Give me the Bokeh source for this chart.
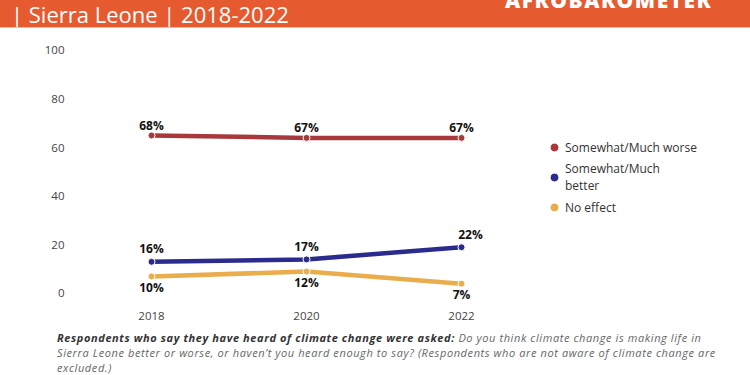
from bokeh.plotting import figure
from bokeh.models import (ColumnDataSource, Range1d, FixedTicker, Legend, LegendItem, Div)
from bokeh.layouts import column
from bokeh.core.properties import value
from bokeh.embed import file_html
from bokeh.resources import INLINE

# ---- data ----
years = [2018, 2020, 2022]
worse = [68, 67, 67]
better = [16, 17, 22]
no_effect = [10, 12, 7]
series_names = ["Somewhat/Much worse", "Somewhat/Much\nbetter", "No effect"]
y_tick_values = [0, 20, 40, 60, 80, 100]

# ---- style ----
FONT = "Open Sans"
colors = ["#a8383b", "#2b2b8e", "#e9ad4c"]
label_dy = [-10, -13, 11]
label_dx_last = [0, 9, 0]
tick_label_lift = 3  # tick labels sit slightly above their gridline position

header = Div(
    text=(
        '<div style="position:relative;width:750px;height:28px;background:#e55a2f;'
        'overflow:hidden;border-bottom:1px solid #f4b89c;box-sizing:border-box;">'
        '<span style="position:absolute;left:11px;top:0px;font-family:\'Open Sans\';'
        'font-size:22px;line-height:28px;color:white;white-space:nowrap;">'
        '| Sierra Leone | 2018-2022</span>'
        '<span style="position:absolute;left:505px;top:-10px;font-family:\'Open Sans\';'
        'font-weight:800;font-size:21px;line-height:21px;color:white;letter-spacing:1.5px;'
        'white-space:nowrap;">AFROBAROMETER</span></div>'
    ),
    width=750, height=28, margin=0,
)

p = figure(width=750, height=300, output_backend="svg", toolbar_location=None,
           x_range=Range1d(2017.019, 2025.471), y_range=Range1d(-0.74, 105.02),
           min_border_left=75, min_border_right=20, min_border_top=17,
           min_border_bottom=26)
p.outline_line_color = None
p.xgrid.visible = False
p.ygrid.visible = False

for ax in (p.xaxis[0], p.yaxis[0]):
    ax.axis_line_color = None
    ax.major_tick_line_color = None
    ax.minor_tick_line_color = None
    ax.major_label_text_font = FONT
    ax.major_label_text_font_size = "11.5px"
    ax.major_label_text_color = "#444444"

p.xaxis[0].ticker = FixedTicker(ticks=years)
p.xaxis[0].major_label_standoff = 3
p.yaxis[0].ticker = FixedTicker(ticks=[v + tick_label_lift for v in y_tick_values])
p.yaxis[0].major_label_overrides = {v + tick_label_lift: str(v) for v in y_tick_values}
p.yaxis[0].major_label_standoff = 5

legend_items = []
for vals, col, name, dy, dx_last in zip([worse, better, no_effect], colors, series_names,
                                        label_dy, label_dx_last):
    src = ColumnDataSource(dict(
        x=years, y=vals, lab=[f"{v}%" for v in vals],
        dx=[0, 0, dx_last],
    ))
    p.line("x", "y", source=src, line_color=col, line_width=4.5)
    r = p.scatter("x", "y", source=src, size=7, fill_color=col, line_color="white",
                  line_width=1)
    p.text("x", "y", text="lab", source=src, x_offset="dx", y_offset=dy,
           text_font=value(FONT), text_font_style="bold", text_font_size="12px",
           text_color="#111111", text_align="center", text_baseline="middle")
    legend_items.append(LegendItem(label=name, renderers=[r]))

legend = Legend(items=legend_items, location=(468, 84), orientation="vertical",
                glyph_width=22, glyph_height=22, label_standoff=0, spacing=2,
                padding=2, margin=0, border_line_color=None,
                background_fill_alpha=0, label_text_font=FONT,
                label_text_font_size="12px", label_text_color="#333333",
                label_height=13)
p.add_layout(legend, "center")

foot_bold = "Respondents who say they have heard of climate change were asked:"
foot_1 = "Do you think climate change is making life in"
foot_2 = ("Sierra Leone better or worse, or haven\u2019t you heard enough to say? "
          "(Respondents who are not aware of climate change are")
foot_3 = "excluded.)"

footer = Div(
    text=(
        '<div style="width:750px;height:47px;padding:2px 0 0 57px;box-sizing:border-box;'
        'font-family:\'Open Sans\';font-size:11px;line-height:15px;font-style:italic;'
        'letter-spacing:0.6px;color:#666666;white-space:nowrap;overflow:hidden;">'
        f'<b style="color:#333333;">{foot_bold}</b> {foot_1}<br>{foot_2}<br>{foot_3}</div>'
    ),
    width=750, height=47, margin=0,
)

layout = column(header, p, footer, spacing=0)
open("out.html", "w").write(file_html(layout, INLINE))
